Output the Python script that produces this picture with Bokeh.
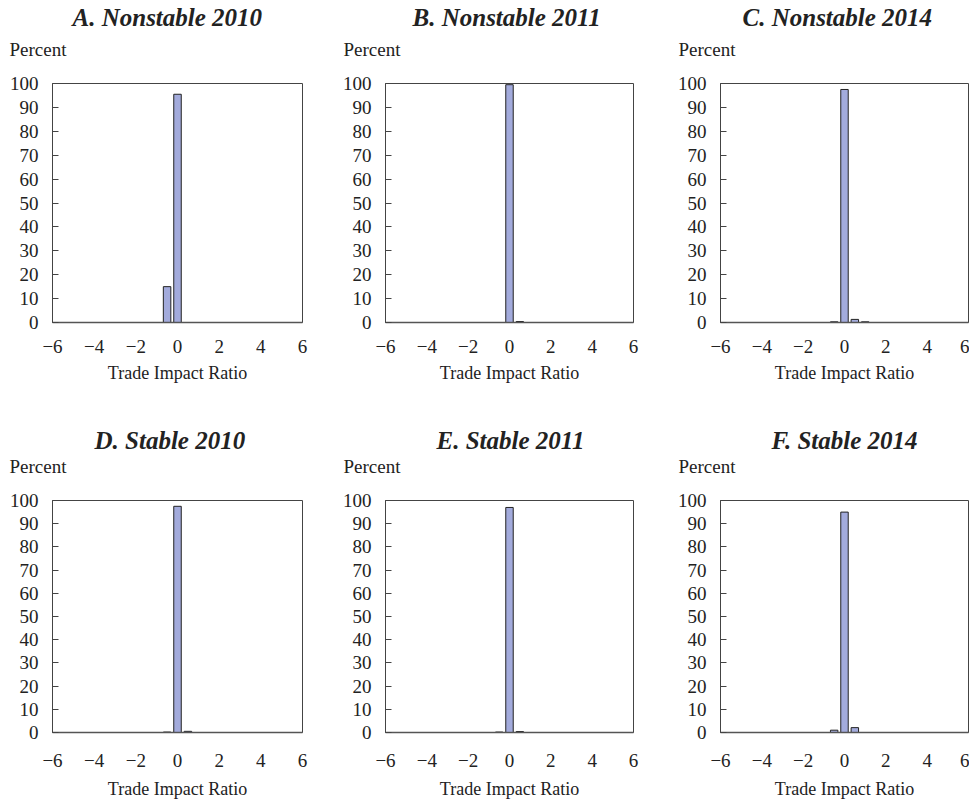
from bokeh.plotting import figure
from bokeh.models import Range1d, FixedTicker, Title
from bokeh.layouts import column, row
from bokeh.embed import file_html
from bokeh.resources import INLINE

# ---- data ----
titles = ["A. Nonstable 2010", "B. Nonstable 2011", "C. Nonstable 2014",
          "D. Stable 2010", "E. Stable 2011", "F. Stable 2014"]
bins = [-0.5, 0.0, 0.5, 1.0]
values_a = [15.0, 95.5, 0.0, 0.0]
values_b = [0.0, 99.5, 0.4, 0.0]
values_c = [0.3, 97.5, 1.3, 0.3]
values_d = [0.2, 97.5, 0.5, 0.0]
values_e = [0.2, 97.0, 0.4, 0.0]
values_f = [1.0, 95.0, 2.1, 0.0]
x_ticks = [-6, -4, -2, 0, 2, 4, 6]
x_tick_labels = ["\u22126", "\u22124", "\u22122", "0", "2", "4", "6"]
y_ticks = [0, 10, 20, 30, 40, 50, 60, 70, 80, 90, 100]
y_label = "Percent"
x_label = "Trade Impact Ratio"

series = [values_a, values_b, values_c, values_d, values_e, values_f]

FONT = "Liberation Serif"
BAR = "#a3abdc"

widths = [339, 335, 295]
left_borders = [52, 44, 44]
right_borders = [37, 41, 1]
title_off = [20, 27, 22, 42, 51, 51]
pct_off = [-43, -42, -42]
row_cfg = [
    dict(height=418, top=83, bottom=96, title_sd=-37, pct_sd=48,
         tick_sd=17, lab_sd=7),
    dict(height=383, top=82, bottom=67, title_sd=-49, pct_sd=48,
         tick_sd=21, lab_sd=9),
]


def make_panel(i):
    r, c = divmod(i, 3)
    cfg = row_cfg[r]
    p = figure(width=widths[c], height=cfg["height"], output_backend="svg",
               toolbar_location=None, tools="", title=None,
               x_range=Range1d(-6, 6), y_range=Range1d(0, 100),
               min_border_left=left_borders[c], min_border_right=right_borders[c],
               min_border_top=cfg["top"], min_border_bottom=cfg["bottom"])
    p.vbar(x=bins, top=series[i], width=0.36, bottom=0,
           fill_color=BAR, line_color="#222222", line_width=1)
    p.xgrid.visible = False
    p.ygrid.visible = False
    p.outline_line_color = "#444444"
    p.outline_line_width = 1
    p.background_fill_color = "white"
    p.border_fill_color = "white"

    xa = p.xaxis[0]
    xa.ticker = FixedTicker(ticks=x_ticks)
    xa.major_label_overrides = {t: l for t, l in zip(x_ticks, x_tick_labels)}
    xa.major_tick_in = 0
    xa.major_tick_out = 0
    xa.minor_tick_in = 0
    xa.minor_tick_out = 0
    xa.axis_line_color = "#555555"
    xa.axis_line_width = 1.5
    xa.major_label_standoff = cfg["tick_sd"]
    xa.major_label_text_font = FONT
    xa.major_label_text_font_size = "19px"
    xa.major_label_text_color = "#222222"
    xa.axis_label = x_label
    xa.axis_label_text_font = FONT
    xa.axis_label_text_font_style = "normal"
    xa.axis_label_text_font_size = "18px"
    xa.axis_label_text_color = "#222222"
    xa.axis_label_standoff = cfg["lab_sd"]

    ya = p.yaxis[0]
    ya.ticker = FixedTicker(ticks=y_ticks)
    ya.major_tick_in = 6
    ya.major_tick_out = 0
    ya.minor_tick_in = 0
    ya.minor_tick_out = 0
    ya.axis_line_color = "#444444"
    ya.major_tick_line_color = "#444444"
    ya.major_label_standoff = 14
    ya.major_label_text_font = FONT
    ya.major_label_text_font_size = "19px"
    ya.major_label_text_color = "#222222"

    # "Percent" sits nearest the frame, the panel title above it
    p.add_layout(Title(text=y_label, align="left", offset=pct_off[c],
                       standoff=cfg["pct_sd"], text_font=FONT,
                       text_font_style="normal", text_font_size="19px",
                       text_color="#222222"), "above")
    p.add_layout(Title(text=titles[i], align="left", offset=title_off[i],
                       standoff=cfg["title_sd"], text_font=FONT,
                       text_font_style="bold italic", text_font_size="25px",
                       text_color="#222222"), "above")
    return p


panels = [make_panel(i) for i in range(6)]
layout = column(row(*panels[:3]), row(*panels[3:]))

open("out.html", "w").write(file_html(layout, INLINE))
